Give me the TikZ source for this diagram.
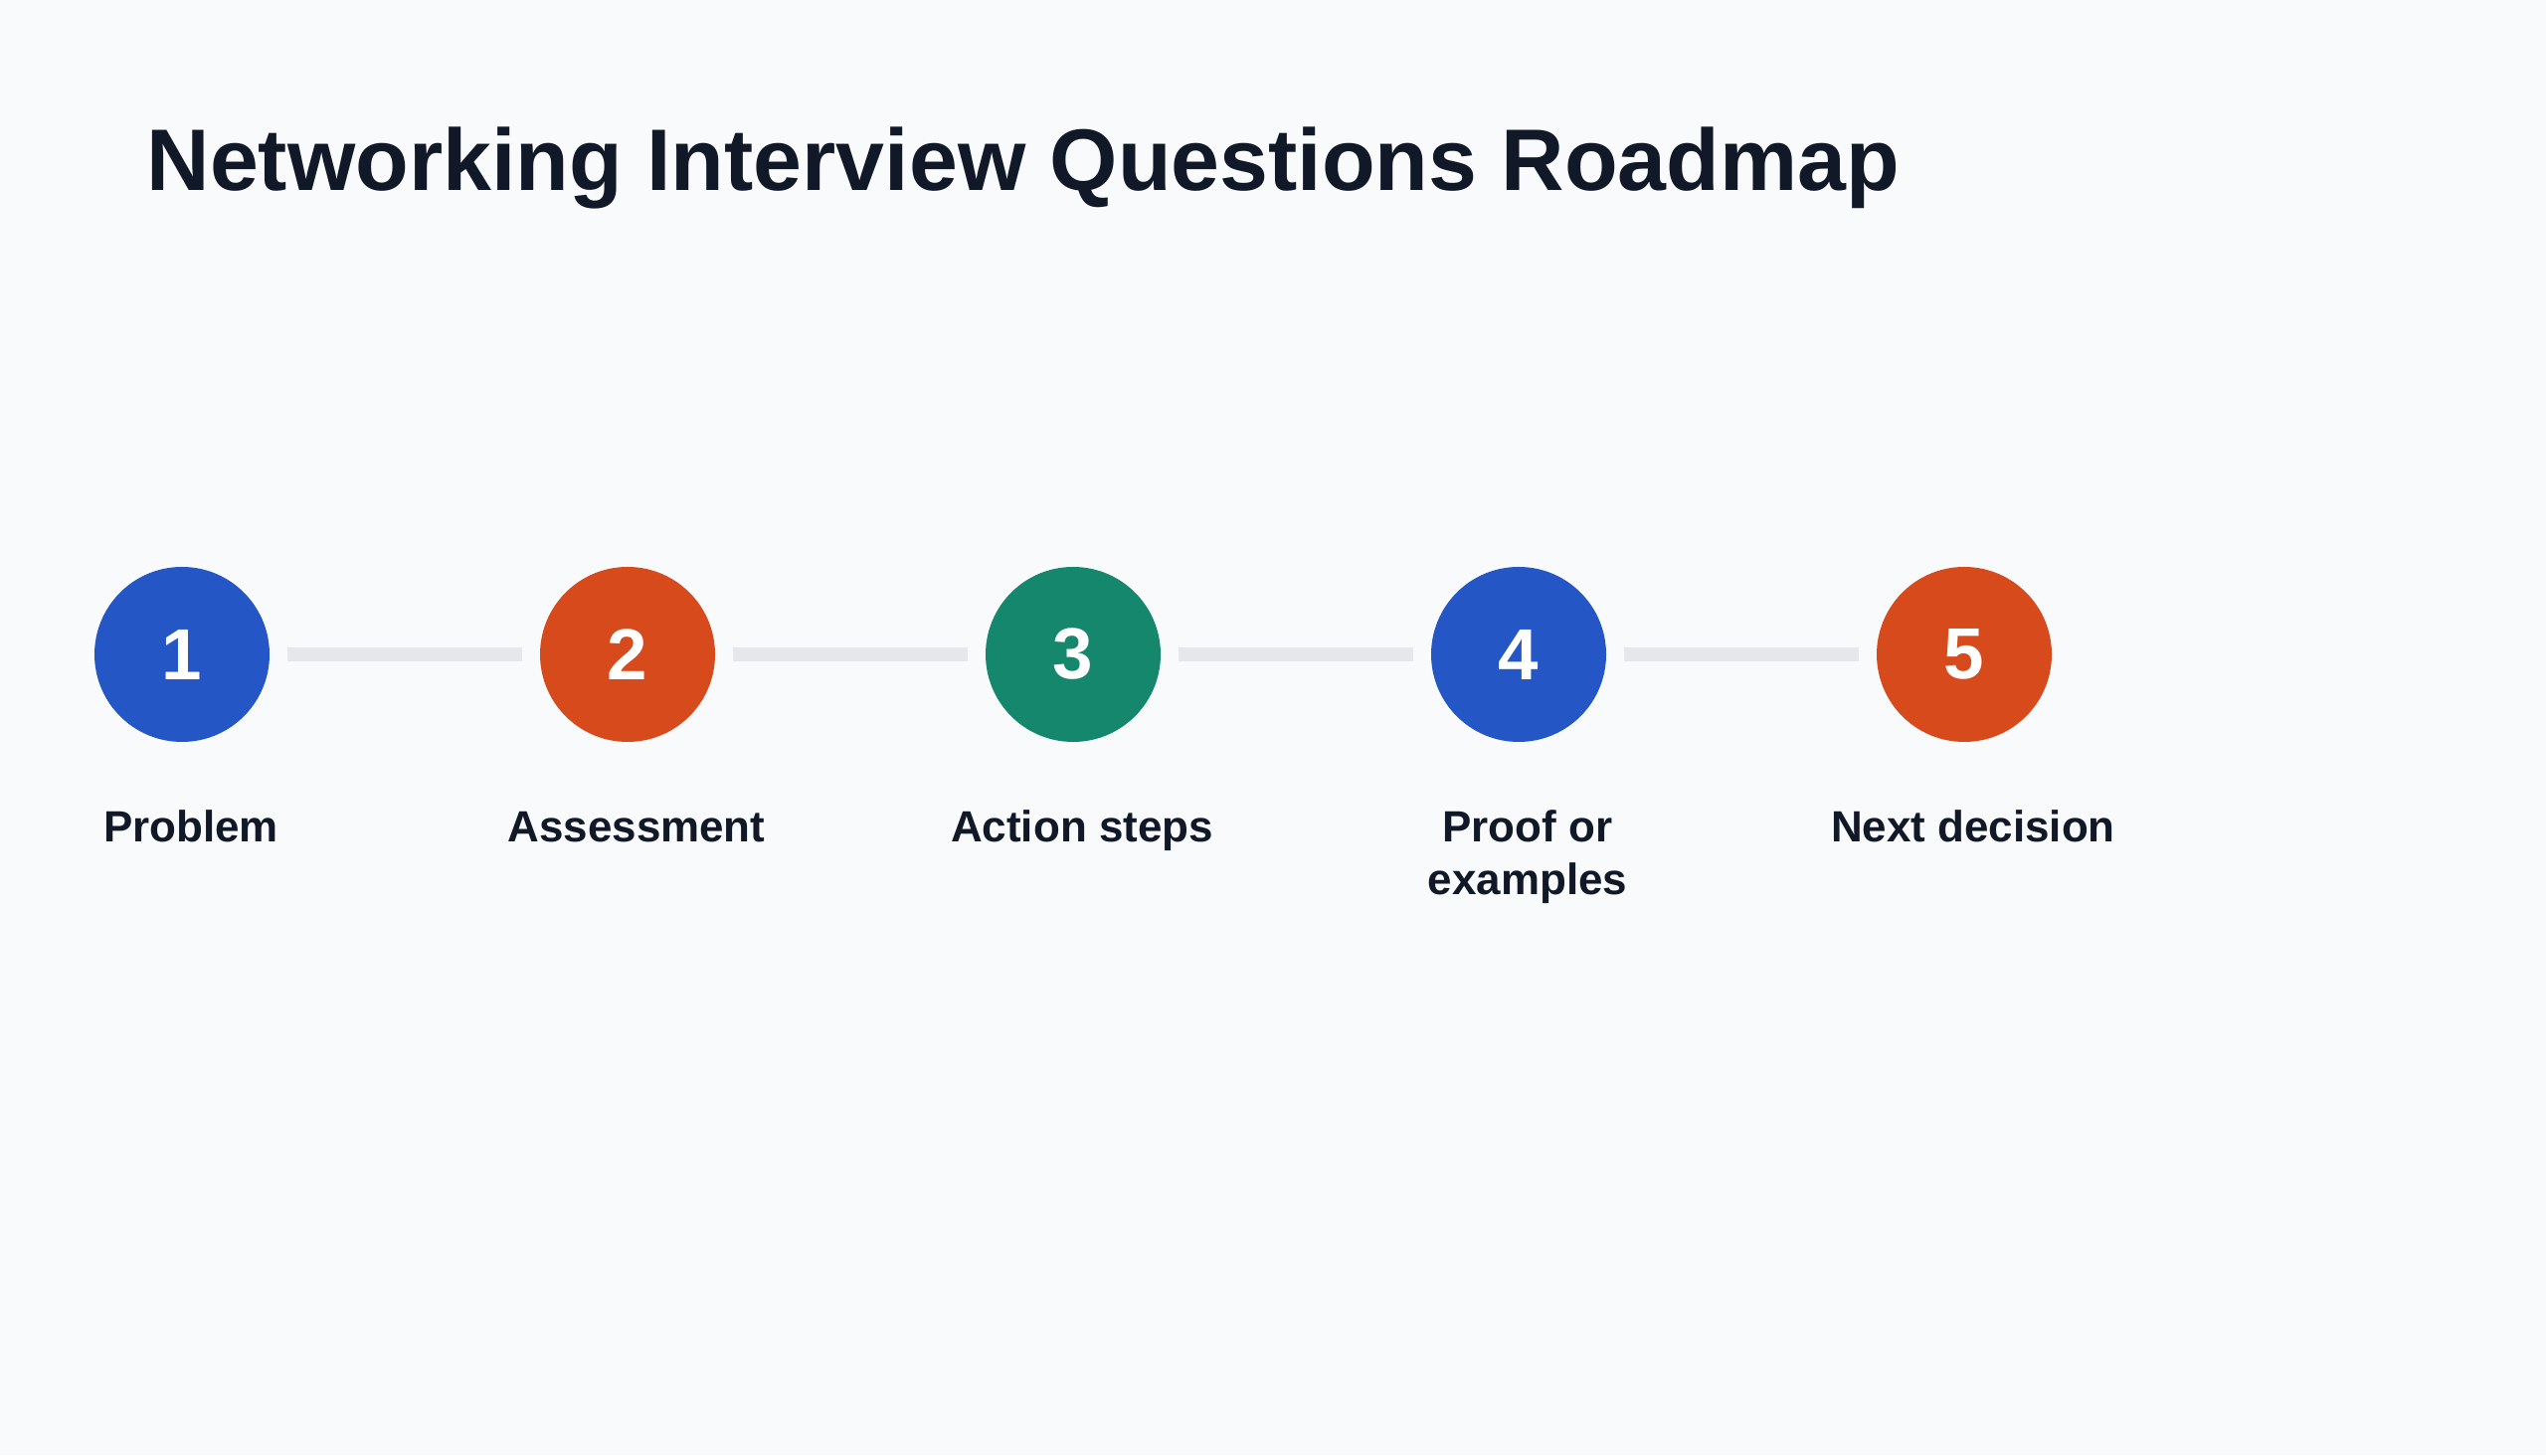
\documentclass[tikz,border=0pt]{standalone}
\usepackage{fontspec}
\setmainfont{Liberation Sans}
\usetikzlibrary{positioning}

\definecolor{bgpage}{HTML}{F8FAFC}
\definecolor{inkdark}{HTML}{111827}
\definecolor{stepblue}{HTML}{2457C5}
\definecolor{steporange}{HTML}{D64A1C}
\definecolor{stepgreen}{HTML}{15876C}
\definecolor{linkgrey}{HTML}{E5E7EB}

\begin{document}
\begin{tikzpicture}[
    stepdot/.style={circle, minimum size=1.76cm, inner sep=0pt, outer sep=0pt, text=white, font=\fontsize{20.7}{24}\selectfont\bfseries},
    lbl/.style={align=center, inner sep=0pt, text=inkdark, execute at begin node=\vphantom{Pb}, font=\fontsize{12.5}{15.2}\selectfont\bfseries},
    link/.style={draw=linkgrey, line width=0.14cm, shorten <=0.18cm, shorten >=0.18cm}
]

    % page
    \fill[bgpage] (0,0) rectangle (25.6,14.63);
    \useasboundingbox (0,0) rectangle (25.6,14.63);

    % Title
    \node[anchor=base west, inner sep=0pt, text=inkdark, font=\fontsize{25}{30}\selectfont\bfseries] (title) at (1.47,12.71) {Networking Interview Questions Roadmap};

    % Steps
    \node[stepdot, fill=stepblue] (s1) at (1.83,8.05) {1};
    \node[stepdot, fill=steporange, right=2.72cm of s1] (s2) {2};
    \node[stepdot, fill=stepgreen, right=2.72cm of s2] (s3) {3};
    \node[stepdot, fill=stepblue, right=2.72cm of s3] (s4) {4};
    \node[stepdot, fill=steporange, right=2.72cm of s4] (s5) {5};

    % Links
    \draw[link] (s1) -- (s2);
    \draw[link] (s2) -- (s3);
    \draw[link] (s3) -- (s4);
    \draw[link] (s4) -- (s5);

    % Labels
    \node[lbl, below=0.68cm of s1, xshift=0.09cm] (l1) {Problem};
    \node[lbl, below=0.68cm of s2, xshift=0.09cm] (l2) {Assessment};
    \node[lbl, below=0.68cm of s3, xshift=0.09cm] (l3) {Action steps};
    \node[lbl, below=0.68cm of s4, xshift=0.09cm] (l4) {Proof or\\examples};
    \node[lbl, below=0.68cm of s5, xshift=0.09cm] (l5) {Next decision};

\end{tikzpicture}
\end{document}
